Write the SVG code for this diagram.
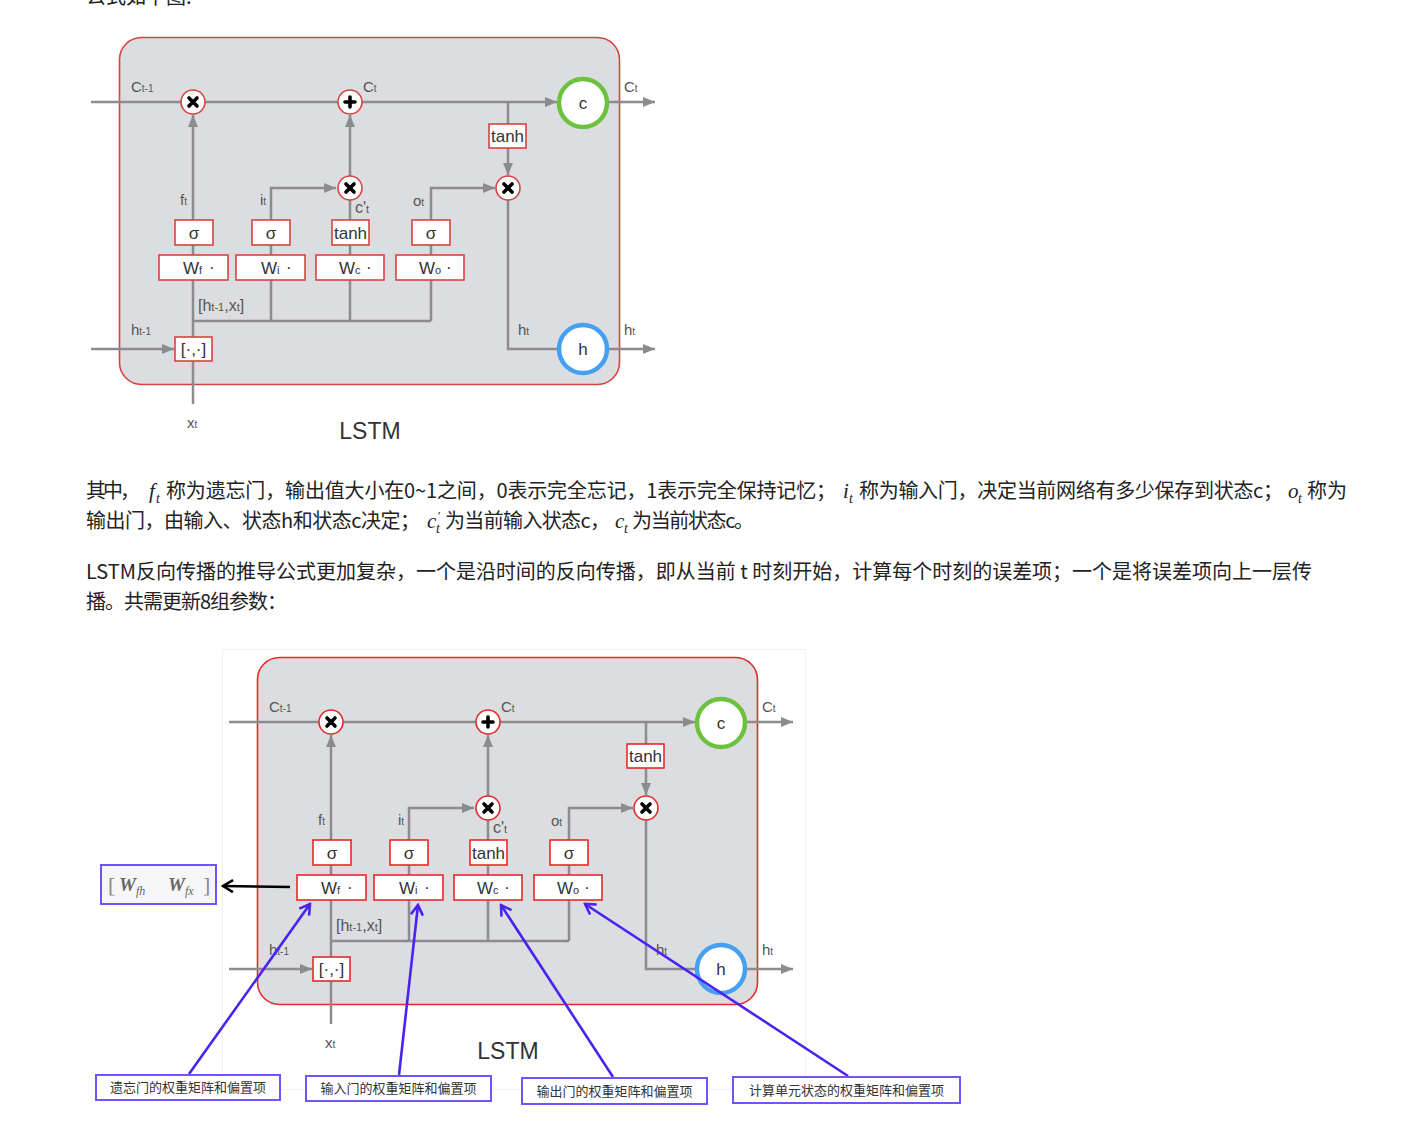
<svg xmlns="http://www.w3.org/2000/svg" xmlns:xlink="http://www.w3.org/1999/xlink" width="1405" height="1139" viewBox="0 0 1405 1139">
<style>
.frame{fill:#dcdde0;stroke:currentColor;stroke-width:1.6}
.conn line,.conn polyline{fill:none;stroke:#8b8c8f;stroke-width:2.5}
.box{fill:#fff;stroke:currentColor;stroke-width:1.6}
.op{fill:#fff;stroke:currentColor;stroke-width:1.6}
.gl{stroke:#000;stroke-width:3.6;stroke-linecap:round;fill:none}
.lbl{font-family:"Liberation Sans",Arial,sans-serif;font-size:15px;fill:#555}
.bt{font-family:"Liberation Sans",Arial,sans-serif;font-size:17px;fill:#333;text-anchor:middle}
.wt{font-family:"Liberation Sans",Arial,sans-serif;font-size:17px;fill:#333}
.para{font-family:"Noto Sans CJK SC","Noto Sans",sans-serif;font-size:20px;fill:#222}
.math{font-family:"Liberation Serif","DejaVu Serif",serif;font-style:italic;fill:#222}
.ann{font-family:"Noto Sans CJK SC",sans-serif;font-size:13px;fill:#333}
.annbox{fill:#fff;stroke:#7052ff;stroke-width:2}
.plink{stroke:#4a22f2;stroke-width:2.6;fill:none}
</style>
<defs>
<marker id="ag" viewBox="0 0 12 10" refX="12" refY="5" markerWidth="12" markerHeight="10" markerUnits="userSpaceOnUse" orient="auto"><path d="M0,0 L12,5 L0,10 z" fill="#8b8c8f"/></marker>
<marker id="ap" viewBox="0 0 14 14" refX="12" refY="7" markerWidth="14" markerHeight="14" markerUnits="userSpaceOnUse" orient="auto"><path d="M2,1 L12,7 L2,13" fill="none" stroke="#4a22f2" stroke-width="2.6"/></marker>
<marker id="ak" viewBox="0 0 14 14" refX="12" refY="7" markerWidth="14" markerHeight="14" markerUnits="userSpaceOnUse" orient="auto"><path d="M2,1 L12,7 L2,13" fill="none" stroke="#000" stroke-width="2.6"/></marker>
<g id="lstm-cell">
 <rect class="frame" x="119.5" y="37.5" width="500" height="347" rx="22"/>
 <g id="connectors" class="conn">
  <line x1="91" y1="102" x2="557" y2="102" marker-end="url(#ag)"/>
  <line x1="608" y1="102" x2="655" y2="102" marker-end="url(#ag)"/>
  <line x1="193" y1="404" x2="193" y2="115" marker-end="url(#ag)"/>
  <polyline points="271,321 271,188 336,188" marker-end="url(#ag)"/>
  <line x1="350" y1="321" x2="350" y2="115" marker-end="url(#ag)"/>
  <polyline points="431,321 431,188 495,188" marker-end="url(#ag)"/>
  <line x1="508" y1="102" x2="508" y2="124"/>
  <line x1="508" y1="148" x2="508" y2="175" marker-end="url(#ag)"/>
  <polyline points="508,200 508,349 559,349"/>
  <line x1="608" y1="349" x2="655" y2="349" marker-end="url(#ag)"/>
  <line x1="91" y1="349" x2="174" y2="349" marker-end="url(#ag)"/>
  <line x1="193" y1="321" x2="431" y2="321"/>
 </g>
 <g id="mul-forget"><circle class="op" cx="193" cy="102" r="12"/><path class="gl" d="M189,98 L197,106 M197,98 L189,106"/></g>
 <g id="add-cell"><circle class="op" cx="350" cy="102" r="12"/><path class="gl" d="M345,102 L355,102 M350,97 L350,107" stroke-width="3"/></g>
 <g id="mul-input"><circle class="op" cx="350" cy="188" r="12"/><path class="gl" d="M346,184 L354,192 M354,184 L346,192"/></g>
 <g id="mul-output"><circle class="op" cx="508" cy="188" r="12"/><path class="gl" d="M504,184 L512,192 M512,184 L504,192"/></g>
 <g id="tanh-out"><rect class="box" x="489" y="124" width="37" height="24"/><text class="bt" x="507.5" y="142">tanh</text></g>
 <g id="sigma-f"><rect class="box" x="175" y="220" width="38" height="25"/><text class="bt" x="194" y="239">σ</text></g>
 <g id="sigma-i"><rect class="box" x="252" y="220" width="38" height="25"/><text class="bt" x="271" y="239">σ</text></g>
 <g id="tanh-c"><rect class="box" x="332" y="220" width="37" height="25"/><text class="bt" x="350.5" y="239">tanh</text></g>
 <g id="sigma-o"><rect class="box" x="412" y="220" width="38" height="25"/><text class="bt" x="431" y="239">σ</text></g>
 <g id="w-f"><rect class="box" x="159" y="255" width="69" height="25"/><text class="wt" x="183" y="274">W<tspan font-size="11">f</tspan></text><text class="wt" x="209" y="273">·</text></g>
 <g id="w-i"><rect class="box" x="236" y="255" width="69" height="25"/><text class="wt" x="261" y="274">W<tspan font-size="11">i</tspan></text><text class="wt" x="286" y="273">·</text></g>
 <g id="w-c"><rect class="box" x="316" y="255" width="68" height="25"/><text class="wt" x="339" y="274">W<tspan font-size="11">c</tspan></text><text class="wt" x="366" y="273">·</text></g>
 <g id="w-o"><rect class="box" x="396" y="255" width="68" height="25"/><text class="wt" x="419" y="274">W<tspan font-size="11">o</tspan></text><text class="wt" x="446" y="273">·</text></g>
 <g id="concat"><rect class="box" x="175" y="337" width="37" height="24"/><text class="bt" x="193.5" y="355">[·,·]</text></g>
 <g id="state-c"><circle cx="583" cy="103" r="24" fill="#fff" stroke="#6cc23f" stroke-width="4.5"/><text class="bt" x="583" y="109">c</text></g>
 <g id="state-h"><circle cx="583" cy="349" r="24" fill="#fff" stroke="#45a0f2" stroke-width="4.5"/><text class="bt" x="583" y="355">h</text></g>
 <g id="labels" class="lbl">
  <text x="131" y="92">C<tspan font-size="10">t-1</tspan></text>
  <text x="363" y="92">C<tspan font-size="10">t</tspan></text>
  <text x="624" y="92">C<tspan font-size="10">t</tspan></text>
  <text x="180" y="205">f<tspan font-size="10">t</tspan></text>
  <text x="260" y="205">i<tspan font-size="10">t</tspan></text>
  <text x="355" y="213" font-size="16">c'<tspan font-size="11">t</tspan></text>
  <text x="413" y="206">o<tspan font-size="10">t</tspan></text>
  <text x="198" y="311" font-size="16">[h<tspan font-size="11">t-1</tspan>,x<tspan font-size="11">t</tspan>]</text>
  <text x="131" y="335">h<tspan font-size="10">t-1</tspan></text>
  <text x="518" y="335">h<tspan font-size="10">t</tspan></text>
  <text x="624" y="335">h<tspan font-size="10">t</tspan></text>
  <text x="187" y="428">x<tspan font-size="10">t</tspan></text>
  <text x="370" y="439" font-size="23" fill="#333" text-anchor="middle">LSTM</text>
 </g>
</g>
</defs>
<rect width="1405" height="1139" fill="#fff"/>
<text class="para" x="86" y="4">公式如下图:</text>
<use id="lstm-top" xlink:href="#lstm-cell" href="#lstm-cell" color="#d8423f"/>
<g id="para1">
 <text class="para" x="86" y="498" textLength="54" lengthAdjust="spacing">其中，</text>
 <text class="math" x="149" y="498" font-size="21">f</text><text class="math" x="156" y="503" font-size="14">t</text>
 <text class="para" x="166" y="498" textLength="670" lengthAdjust="spacing">称为遗忘门，输出值大小在0~1之间，0表示完全忘记，1表示完全保持记忆；</text>
 <text class="math" x="843" y="498" font-size="21">i</text><text class="math" x="849" y="503" font-size="14">t</text>
 <text class="para" x="859" y="498" textLength="424" lengthAdjust="spacing">称为输入门，决定当前网络有多少保存到状态c；</text>
 <text class="math" x="1288" y="498" font-size="21">o</text><text class="math" x="1298" y="503" font-size="14">t</text>
 <text class="para" x="1307" y="498" textLength="40" lengthAdjust="spacing">称为</text>
 <text class="para" x="86" y="528" textLength="334" lengthAdjust="spacing">输出门，由输入、状态h和状态c决定；</text>
 <text class="math" x="427" y="528" font-size="21">c</text><text class="math" x="437" y="520" font-size="13">′</text><text class="math" x="436" y="533" font-size="14">t</text>
 <text class="para" x="445" y="528" textLength="165" lengthAdjust="spacing">为当前输入状态c，</text>
 <text class="math" x="615" y="528" font-size="21">c</text><text class="math" x="624" y="533" font-size="14">t</text>
 <text class="para" x="632" y="528" textLength="122" lengthAdjust="spacing">为当前状态c。</text>
</g>
<g id="para2">
 <text class="para" x="86" y="579" textLength="1226" lengthAdjust="spacing">LSTM反向传播的推导公式更加复杂，一个是沿时间的反向传播，即从当前 t 时刻开始，计算每个时刻的误差项；一个是将误差项向上一层传</text>
 <text class="para" x="86" y="609" textLength="201" lengthAdjust="spacing">播。共需更新8组参数：</text>
</g>
<rect x="222.5" y="649.5" width="583" height="440" fill="#fff" stroke="#f2f2f2"/>
<use id="lstm-bottom" xlink:href="#lstm-cell" href="#lstm-cell" transform="translate(138,620)" color="#e52a2a"/>
<g id="wf-matrix">
 <rect x="101" y="865" width="115" height="39" fill="#f6f6f6" stroke="#7052ff" stroke-width="2"/>
 <text x="108" y="892" font-family="Liberation Serif,serif" font-size="22" fill="#888">[</text>
 <text x="119" y="891" class="math" font-size="19" font-weight="bold" style="fill:#666">W</text>
 <text x="136" y="895" class="math" font-size="12" style="fill:#666">fh</text>
 <text x="168" y="891" class="math" font-size="19" font-weight="bold" style="fill:#666">W</text>
 <text x="185" y="895" class="math" font-size="12" style="fill:#666">fx</text>
 <text x="203" y="892" font-family="Liberation Serif,serif" font-size="22" fill="#888">]</text>
</g>
<g id="annotation-links">
 <line x1="290" y1="887" x2="223" y2="886" stroke="#000" stroke-width="2.6" marker-end="url(#ak)"/>
 <line class="plink" x1="189" y1="1074" x2="310" y2="904" marker-end="url(#ap)"/>
 <line class="plink" x1="399" y1="1075" x2="418" y2="905" marker-end="url(#ap)"/>
 <line class="plink" x1="613" y1="1077" x2="501" y2="905" marker-end="url(#ap)"/>
 <line class="plink" x1="848" y1="1076" x2="585" y2="904" marker-end="url(#ap)"/>
</g>
<g id="label-forget"><rect class="annbox" x="96" y="1075" width="184" height="25"/><text class="ann" x="188" y="1092" text-anchor="middle">遗忘门的权重矩阵和偏置项</text></g>
<g id="label-input"><rect class="annbox" x="306" y="1076" width="185" height="25"/><text class="ann" x="398.5" y="1093" text-anchor="middle">输入门的权重矩阵和偏置项</text></g>
<g id="label-output"><rect class="annbox" x="522" y="1078" width="185" height="26"/><text class="ann" x="614.5" y="1096" text-anchor="middle">输出门的权重矩阵和偏置项</text></g>
<g id="label-cell"><rect class="annbox" x="733" y="1077" width="227" height="26"/><text class="ann" x="846.5" y="1095" text-anchor="middle">计算单元状态的权重矩阵和偏置项</text></g>
</svg>
